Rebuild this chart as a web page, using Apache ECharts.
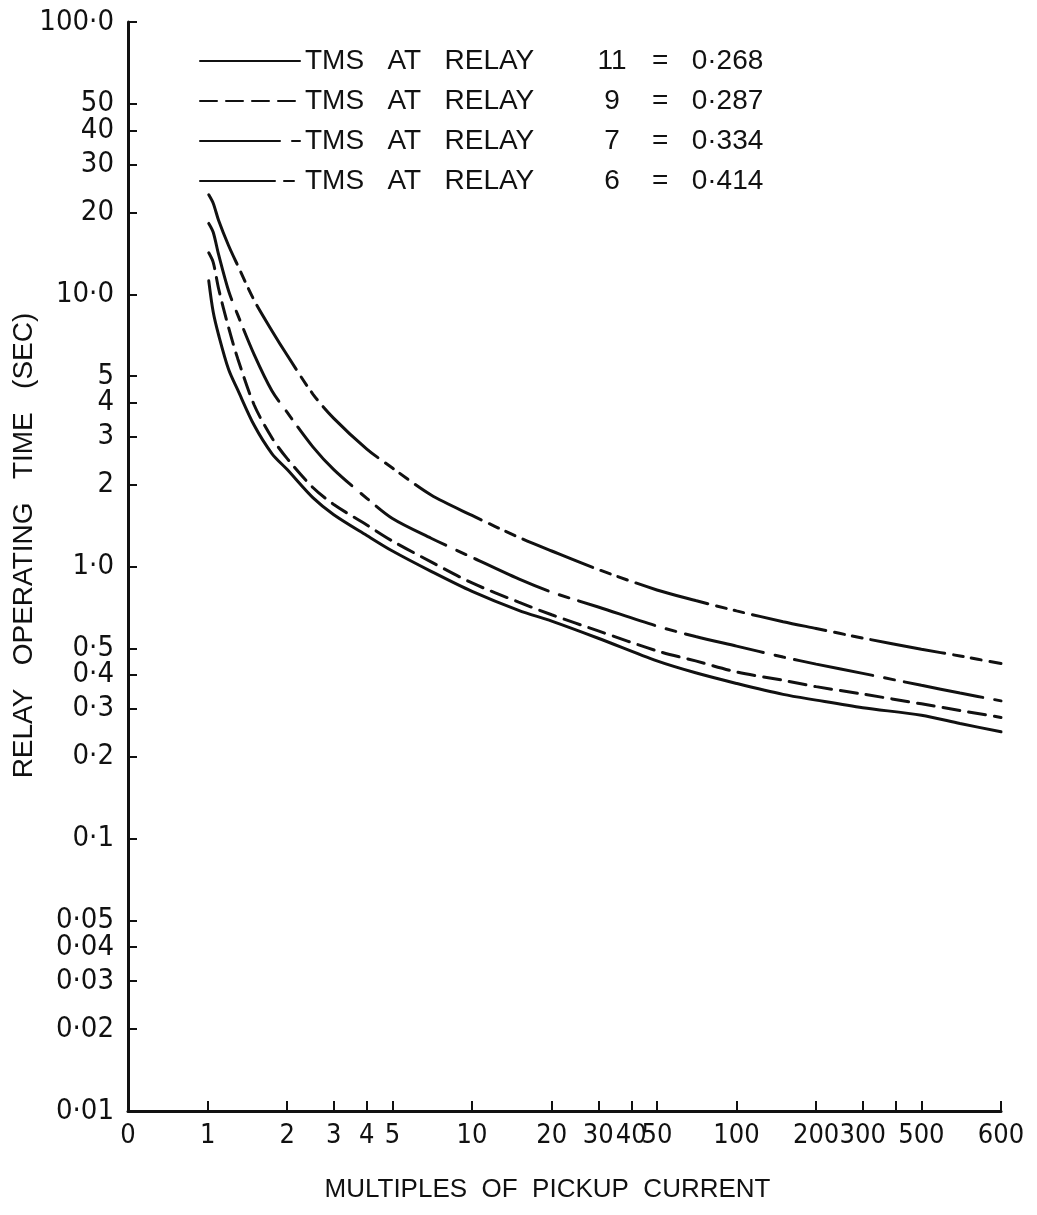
<!DOCTYPE html>
<html>
<head>
<meta charset="utf-8">
<title>Relay operating time</title>
<script src="https://cdn.jsdelivr.net/npm/echarts@6/dist/echarts.min.js"></script>
<style>
  html, body { margin: 0; padding: 0; background: #fff; }
  #chart { width: 1037px; height: 1215px; }
</style>
</head>
<body>
<div id="chart"></div>
<script>
const multiples = [1.01, 1.05, 1.1, 1.2, 1.3, 1.5, 1.75, 2, 2.5, 3, 4, 5, 7, 10, 15, 20, 30, 50, 70, 100, 150, 200, 300, 500, 700, 1000];

// relay operating time (sec)
const relay11 = [11.2, 8.6, 7.1, 5.3, 4.45, 3.3, 2.6, 2.27, 1.79, 1.55, 1.30, 1.14, 0.96, 0.81, 0.69, 0.63, 0.545, 0.45, 0.407, 0.372, 0.339, 0.323, 0.303, 0.284, 0.265, 0.247];
const relay9 = [14.2, 13.1, 10.5, 7.55, 5.8, 3.92, 2.97, 2.49, 1.95, 1.69, 1.42, 1.24, 1.04, 0.87, 0.74, 0.665, 0.58, 0.49, 0.45, 0.41, 0.382, 0.362, 0.34, 0.313, 0.296, 0.279];
const relay7 = [18.2, 16.9, 14.0, 10.3, 8.4, 6.0, 4.42, 3.68, 2.75, 2.27, 1.78, 1.5, 1.27, 1.08, 0.90, 0.805, 0.71, 0.604, 0.553, 0.51, 0.465, 0.438, 0.405, 0.366, 0.343, 0.321];
const relay6 = [23.2, 21.6, 18.7, 15.1, 12.75, 9.5, 7.35, 5.97, 4.3, 3.5, 2.7, 2.3, 1.83, 1.54, 1.28, 1.14, 0.975, 0.82, 0.75, 0.687, 0.627, 0.592, 0.546, 0.497, 0.469, 0.44];

const relayNumbers = ['11', '9', '7', '6'];
const tmsValues = ['0·268', '0·287', '0·334', '0·414'];

// ticks as drawn on the original axes
const xTickValues = [0.5, 1, 2, 3, 4, 5, 10, 20, 30, 40, 50, 100, 200, 300, 400, 500, 1000];
const xTickLabels = ['0', '1', '2', '3', '4', '5', '10', '20', '30', '40', '50', '100', '200', '300', '', '500', '600'];
const yTickValues = [0.01, 0.02, 0.03, 0.04, 0.05, 0.1, 0.2, 0.3, 0.4, 0.5, 1, 2, 3, 4, 5, 10, 20, 30, 40, 50, 100];
const yTickLabels = ['0·01', '0·02', '0·03', '0·04', '0·05', '0·1', '0·2', '0·3', '0·4', '0·5', '1·0', '2', '3', '4', '5', '10·0', '20', '30', '40', '50', '100·0'];

const narrow = "'Liberation Sans Narrow', 'DejaVu Sans Condensed', 'Liberation Sans', sans-serif";
const plain = "'Liberation Sans', 'DejaVu Sans', sans-serif";
const ink = '#111';

function tickLabel(values, labels, v) {
  let best = 0;
  for (let i = 1; i < values.length; i++) {
    if (Math.abs(Math.log(v / values[i])) < Math.abs(Math.log(v / values[best]))) best = i;
  }
  return labels[best];
}

const curves = [relay11, relay9, relay7, relay6];
const names = relayNumbers.map((r, i) => 'TMS AT RELAY ' + r + ' = ' + tmsValues[i]);
const dashes = ['solid', [17, 9], [80, 12, 10, 10], [75, 9, 10, 8, 10, 9]];

var chart = echarts.init(document.getElementById('chart'));
chart.setOption({
  animation: false,
  backgroundColor: '#fff',
  grid: { left: 128, right: 36, top: 22, bottom: 104, outerBoundsMode: 'none' },
  legend: {
    orient: 'vertical',
    left: 194,
    top: 42,
    itemWidth: 100,
    itemHeight: 14,
    itemGap: 12,
    data: names,
    itemStyle: { opacity: 0 },
    formatter: function (name) {
      const i = names.indexOf(name);
      return '{a|TMS   AT   RELAY}{b|' + relayNumbers[i] + '}{c|=   ' + tmsValues[i] + '}';
    },
    textStyle: {
      color: ink,
      fontFamily: plain,
      fontSize: 28,
      lineHeight: 26,
      rich: {
        a: { width: 287, fontSize: 28, fontFamily: plain, color: ink },
        b: { width: 40, align: 'center', fontSize: 28, fontFamily: plain, color: ink },
        c: { fontSize: 28, fontFamily: plain, color: ink, padding: [0, 0, 0, 20] }
      }
    }
  },
  xAxis: {
    type: 'log',
    logBase: 10,
    min: 0.5,
    max: 1000,
    name: 'MULTIPLES  OF  PICKUP  CURRENT',
    nameLocation: 'middle',
    nameGap: 66,
    nameTextStyle: { color: ink, fontFamily: plain, fontSize: 26, padding: [0, 34, 0, 0] },
    axisLine: { onZero: false, lineStyle: { color: ink, width: 3 } },
    axisTick: { inside: true, length: 10, customValues: xTickValues, lineStyle: { color: ink, width: 2 } },
    minorTick: { show: false },
    splitLine: { show: false },
    axisLabel: {
      customValues: xTickValues,
      formatter: v => tickLabel(xTickValues, xTickLabels, v),
      color: ink, fontFamily: narrow, fontSize: 27, margin: 11
    }
  },
  yAxis: {
    type: 'log',
    logBase: 10,
    min: 0.01,
    max: 100,
    name: 'RELAY   OPERATING   TIME   (SEC)',
    nameLocation: 'middle',
    nameGap: 90,
    nameRotate: 90,
    nameMoveOverlap: false,
    nameTextStyle: { color: ink, fontFamily: plain, fontSize: 28, padding: [0, 0, 0, 42] },
    axisLine: { onZero: false, lineStyle: { color: ink, width: 3 } },
    axisTick: { inside: true, length: 9, customValues: yTickValues, lineStyle: { color: ink, width: 2 } },
    minorTick: { show: false },
    splitLine: { show: false },
    axisLabel: {
      customValues: yTickValues,
      formatter: v => tickLabel(yTickValues, yTickLabels, v),
      color: ink, fontFamily: narrow, fontSize: 29, margin: 14
    }
  },
  series: curves.map((t, i) => ({
    name: names[i],
    type: 'line',
    symbol: 'none',
    smooth: 0.3,
    data: multiples.map((m, j) => [m, t[j]]),
    lineStyle: { color: ink, width: 3, type: dashes[i], cap: 'round' },
    itemStyle: { color: ink }
  }))
});
</script>
</body>
</html>
